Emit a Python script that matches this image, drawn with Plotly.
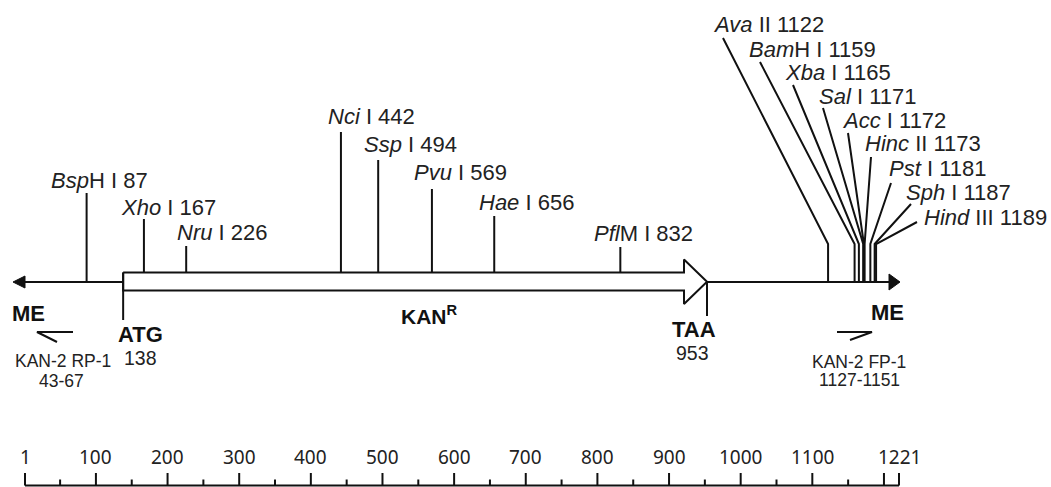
import plotly.graph_objects as go

# ---------------- data ----------------
seq_length = 1221
gene_name = "KAN"
gene_start = 138   # ATG
gene_stop = 953    # TAA

top_italic = ["Bsp", "Xho", "Nru", "Nci", "Ssp", "Pvu", "Hae", "Pfl"]
top_rest = ["H I", " I", " I", " I", " I", " I", " I", "M I"]
top_pos = [87, 167, 226, 442, 494, 569, 656, 832]

mcs_italic = ["Ava", "Bam", "Xba", "Sal", "Acc", "Hinc", "Pst", "Sph", "Hind"]
mcs_rest = [" II", "H I", " I", " I", " I", " II", " I", " I", " III"]
mcs_pos = [1122, 1159, 1165, 1171, 1172, 1173, 1181, 1187, 1189]

primer_names = ["KAN-2 RP-1", "KAN-2 FP-1"]
primer_start = [43, 1127]
primer_end = [67, 1151]

major_ticks = [1, 100, 200, 300, 400, 500, 600, 700, 800, 900, 1000, 1100, 1200, 1221]
tick_labels = [1, 100, 200, 300, 400, 500, 600, 700, 800, 900, 1000, 1100, 1221]
minor_ticks = [50, 150, 250, 350, 450, 550, 650, 750, 850, 950, 1050, 1150]

# ---------------- layout constants (pixels) ----------------
W, H = 1051, 487
PX0 = 25.0        # pixel of base 1
SCALE = 0.7164    # pixels per base


def bp(px):
    return 1 + (px - PX0) / SCALE


def dbp(dpx):
    return dpx / SCALE


Y_AX = 282
BOX_T, BOX_B = 272.5, 290.5
HEAD_T, HEAD_B = 259.5, 304
HEAD_LEN = 23
LINE_W = 2
BLACK = "#111111"
TXT = "#222222"
FONT = "Liberation Sans, Arial, sans-serif"
SITE_SIZE = 22

top_label_px = [49, 119, 175, 326, 362, 412, 477, 592]
top_label_y = [180, 207, 232, 116, 144, 172, 202, 233]
top_line_top = [193, 219, 246, 132, 160, 189, 216, 247]

mcs_label_px = [711, 747, 783, 817, 840, 863, 887, 904, 922]
mcs_label_y = [24, 49, 72, 96, 120, 143, 168, 192, 217]
mcs_lead_px = [723, 760, 793, 823, 848, 871, 891, 911, 917]
mcs_lead_y = [38, 62, 85, 108, 133, 157, 183, 204, 222]
BEND_Y = 244

fig = go.Figure()


def seg(xs, ys, width=LINE_W):
    fig.add_trace(go.Scatter(x=xs, y=ys, mode="lines",
                             line=dict(color=BLACK, width=width),
                             hoverinfo="skip", showlegend=False))


# backbone left and right
seg([1, gene_start], [Y_AX, Y_AX])
seg([gene_stop, seq_length], [Y_AX, Y_AX])
# arrowheads at both ends (filled)
fig.add_trace(go.Scatter(x=[1, 1 - dbp(12), 1, 1], y=[Y_AX - 6, Y_AX, Y_AX + 6, Y_AX - 6],
                         mode="lines", fill="toself", fillcolor=BLACK,
                         line=dict(color=BLACK, width=1), hoverinfo="skip", showlegend=False))
fig.add_trace(go.Scatter(x=[seq_length - dbp(10), seq_length + dbp(1), seq_length - dbp(10), seq_length - dbp(10)],
                         y=[Y_AX - 8, Y_AX, Y_AX + 8, Y_AX - 8],
                         mode="lines", fill="toself", fillcolor=BLACK,
                         line=dict(color=BLACK, width=1), hoverinfo="skip", showlegend=False))

# gene arrow (open)
hb = gene_stop - dbp(HEAD_LEN)
fig.add_trace(go.Scatter(
    x=[gene_start, hb, hb, gene_stop, hb, hb, gene_start, gene_start],
    y=[BOX_T, BOX_T, HEAD_T, (HEAD_T + HEAD_B) / 2, HEAD_B, BOX_B, BOX_B, BOX_T],
    mode="lines", fill="toself", fillcolor="white",
    line=dict(color=BLACK, width=LINE_W), hoverinfo="skip", showlegend=False))

# start / stop codon ticks
seg([gene_start, gene_start], [BOX_T, 320])
seg([gene_stop, gene_stop], [Y_AX, 316])

# top restriction sites
xs, ys = [], []
for p, top in zip(top_pos, top_line_top):
    base_y = BOX_T if gene_start <= p <= gene_stop else Y_AX
    xs += [p, p, None]
    ys += [base_y, top, None]
seg(xs, ys)

# MCS sites with leader lines
xs, ys = [], []
for p, lx, ly in zip(mcs_pos, mcs_lead_px, mcs_lead_y):
    xs += [bp(lx), p, p, None]
    ys += [ly, BEND_Y, Y_AX, None]
seg(xs, ys)

# primers (half arrows)
seg([bp(73), bp(37), bp(57)], [332, 332, 342])
seg([bp(837), bp(872), bp(850)], [332, 332, 340])

# ruler
ruler_y = 485.5
seg([1, seq_length], [ruler_y, ruler_y])
xs, ys = [], []
for t in major_ticks:
    xs += [t, t, None]
    ys += [ruler_y, 473, None]
for t in minor_ticks:
    xs += [t, t, None]
    ys += [ruler_y, 479.5, None]
seg(xs, ys)

ann = []


def text(x, y, s, size=20, anchor="left", color=TXT, family=FONT):
    ann.append(dict(x=x, y=y, text=s, xref="x", yref="y", showarrow=False,
                    xanchor=anchor, yanchor="middle",
                    font=dict(family=family, size=size, color=color)))


for it, rest, p, lx, ly in zip(top_italic, top_rest, top_pos, top_label_px, top_label_y):
    text(bp(lx), ly, f"<i>{it}</i>{rest} {p}", size=SITE_SIZE)
for it, rest, p, lx, ly in zip(mcs_italic, mcs_rest, mcs_pos, mcs_label_px, mcs_label_y):
    text(bp(lx), ly, f"<i>{it}</i>{rest} {p}", size=SITE_SIZE)

text(bp(28), 313, "<b>ME</b>", size=22, anchor="center", color=BLACK)
text(bp(887), 312, "<b>ME</b>", size=22, anchor="center", color=BLACK)
text(bp(140), 334, "<b>ATG</b>", size=22, anchor="center", color=BLACK)
text(bp(140), 358, str(gene_start), size=19.5, anchor="center")
text(bp(694), 329, "<b>TAA</b>", size=22, anchor="center", color=BLACK)
text(bp(692), 353, str(gene_stop), size=19.5, anchor="center")
text(bp(429), 315, f"<b>{gene_name}<sup>R</sup></b>", size=21, anchor="center", color=BLACK)

text(bp(63), 361, primer_names[0], size=17.5, anchor="center")
text(bp(61), 381, f"{primer_start[0]}-{primer_end[0]}", size=17.5, anchor="center")
text(bp(859), 362, primer_names[1], size=17.5, anchor="center")
text(bp(859), 380, f"{primer_start[1]}-{primer_end[1]}", size=17.5, anchor="center")

for t in tick_labels:
    text(t, 457, str(t), size=19, anchor="center", family="Noto Sans, sans-serif")

fig.update_layout(
    width=W, height=H, margin=dict(l=0, r=0, t=0, b=0),
    paper_bgcolor="white", plot_bgcolor="white",
    xaxis=dict(range=[bp(0), bp(W)], visible=False, fixedrange=True),
    yaxis=dict(range=[H, 0], visible=False, fixedrange=True),
    annotations=ann, showlegend=False,
)

fig.write_html("out.html", config={"displayModeBar": False},
               post_script="document.body.style.margin='0px';document.body.style.overflow='hidden';")
